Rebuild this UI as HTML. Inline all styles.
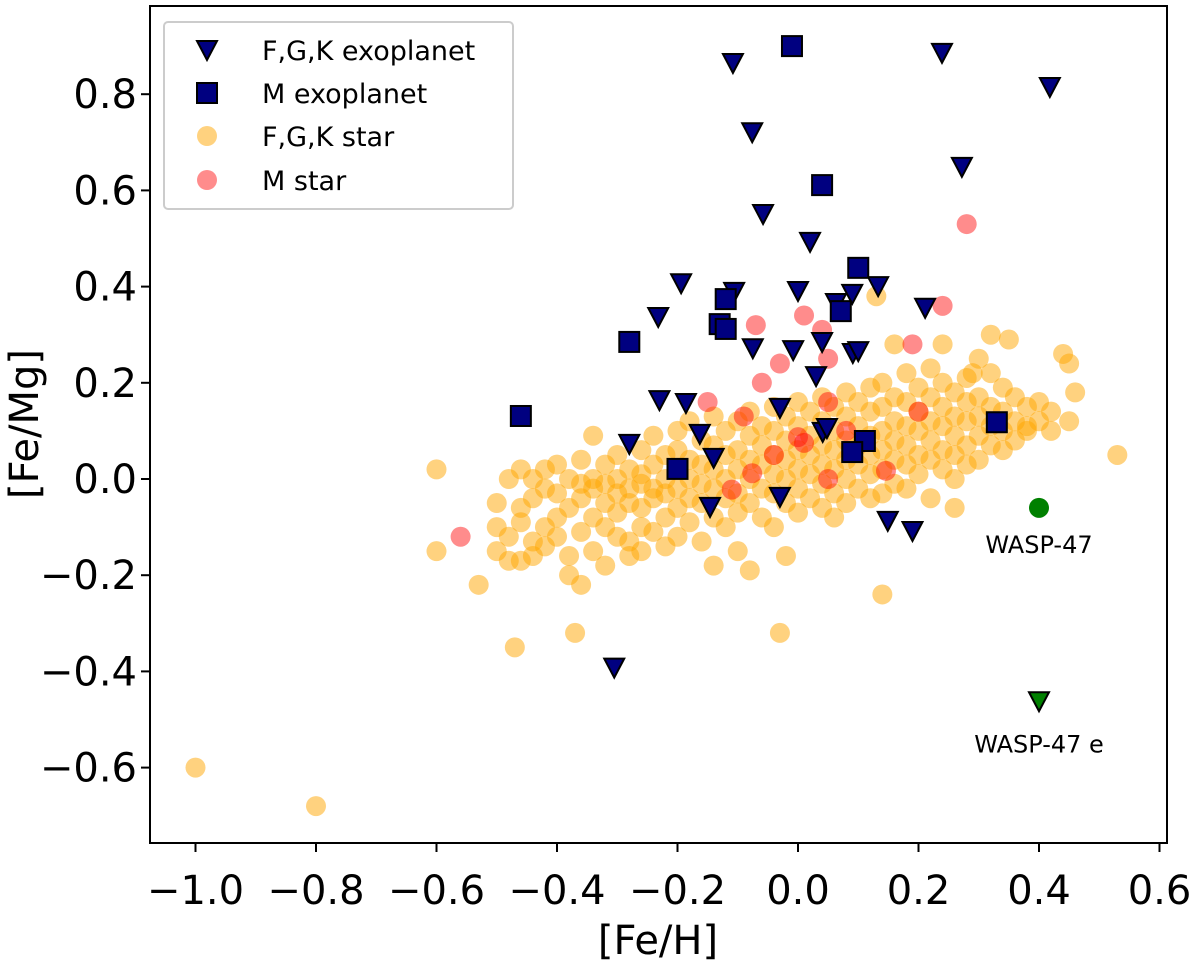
<!DOCTYPE html>
<html><head><meta charset="utf-8"><style>
html,body{margin:0;padding:0;background:#fff;}
svg{display:block;font-family:"DejaVu Sans","Liberation Sans",sans-serif;}
</style></head><body>
<svg id="chart" width="1200" height="964" viewBox="0 0 1200 964">
<g id="marks"></g>
<g id="axes"></g>
</svg>
<script>
const xTicks=[-1.0,-0.8,-0.6,-0.4,-0.2,0.0,0.2,0.4,0.6];
const yTicks=[-0.6,-0.4,-0.2,0.0,0.2,0.4,0.6,0.8];
const fgkRows=[
[-0.5,[-0.05,-0.1,-0.15]],[-0.48,[0.0,-0.12,-0.17]],[-0.46,[0.02,-0.06,-0.09,-0.17]],
[-0.44,[0.0,-0.04,-0.13,-0.16]],[-0.42,[0.02,-0.02,-0.1,-0.14]],[-0.4,[0.03,-0.03,-0.08,-0.12]],
[-0.38,[0.0,-0.06,-0.16,-0.2]],[-0.36,[0.04,-0.01,-0.04,-0.11,-0.22]],[-0.34,[0.09,0.0,-0.02,-0.08,-0.15]],
[-0.32,[0.03,-0.01,-0.05,-0.1,-0.18]],[-0.3,[0.05,0.0,-0.03,-0.07,-0.12]],[-0.28,[0.02,-0.02,-0.05,-0.13,-0.16]],
[-0.26,[0.06,0.01,-0.01,-0.06,-0.1,-0.15]],[-0.24,[0.09,0.03,-0.02,-0.04,-0.11]],[-0.22,[0.05,0.0,-0.03,-0.08,-0.14]],
[-0.2,[0.1,0.06,0.02,-0.02,-0.06,-0.12]],[-0.18,[0.12,0.04,0.0,-0.04,-0.09]],[-0.16,[0.08,0.03,-0.01,-0.05,-0.13]],
[-0.14,[0.13,0.07,0.02,-0.02,-0.08,-0.18]],[-0.12,[0.1,0.05,0.0,-0.04,-0.1]],[-0.1,[0.12,0.06,0.02,-0.03,-0.07,-0.15]],
[-0.08,[0.14,0.09,0.04,0.0,-0.05,-0.19]],[-0.06,[0.11,0.07,0.03,-0.02,-0.08]],[-0.04,[0.15,0.1,0.05,0.01,-0.03,-0.1]],
[-0.02,[0.13,0.08,0.04,0.0,-0.05,-0.16]],[0.0,[0.16,0.11,0.06,0.02,-0.02,-0.07]],[0.02,[0.14,0.09,0.05,0.01,-0.04]],
[0.04,[0.17,0.12,0.07,0.03,-0.01,-0.06]],[0.06,[0.15,0.1,0.06,0.02,-0.03,-0.08]],[0.08,[0.18,0.13,0.08,0.04,0.0,-0.05]],
[0.1,[0.16,0.11,0.07,0.03,-0.02]],[0.12,[0.19,0.14,0.09,0.05,0.01,-0.04]],[0.14,[0.2,0.15,0.1,0.06,0.02,-0.03]],
[0.16,[0.17,0.12,0.08,0.04,-0.01]],[0.18,[0.22,0.16,0.11,0.07,0.03,-0.02]],[0.2,[0.19,0.14,0.1,0.05,0.01]],
[0.22,[0.23,0.17,0.12,0.08,0.04,-0.04]],[0.24,[0.2,0.15,0.11,0.06,0.02]],[0.26,[0.18,0.13,0.09,0.05,0.0,-0.06]],
[0.28,[0.21,0.16,0.12,0.07,0.03]],[0.3,[0.25,0.17,0.13,0.09,0.04]],[0.32,[0.22,0.15,0.11,0.07]],
[0.34,[0.19,0.14,0.1,0.06]],[0.36,[0.17,0.12,0.08]],[0.38,[0.15,0.11,0.1]],[0.4,[0.16,0.12]],[0.42,[0.14,0.1]],
[-1.0,[-0.6]],[-0.8,[-0.68]],[-0.6,[0.02,-0.15]],[-0.53,[-0.22]],[-0.47,[-0.35]],[-0.37,[-0.32]],
[-0.03,[-0.32]],[0.14,[-0.24]],[0.53,[0.05]],[0.44,[0.26]],[0.45,[0.24,0.12]],[0.46,[0.18]],
[0.13,[0.38]],[0.32,[0.3]],[0.35,[0.29]],[0.24,[0.28]],[0.29,[0.22]],[0.16,[0.28]]
];
const mStarX=[0.28,0.24,0.19,-0.07,0.01,0.04,-0.03,0.05,-0.06,0.05,-0.09,-0.15,0.0,0.08,0.2,-0.04,0.05,-0.076,-0.11,0.146,0.01,-0.56];
const mStarY=[0.53,0.36,0.28,0.32,0.34,0.31,0.24,0.25,0.2,0.16,0.13,0.16,0.087,0.1,0.14,0.05,0.0,0.012,-0.022,0.017,0.075,-0.12];
const fgkPlanetX=[-0.108,0.239,0.418,-0.076,0.272,-0.058,0.02,-0.194,-0.232,-0.106,0.0,0.063,0.09,0.133,0.211,-0.075,-0.008,0.04,0.091,0.1,-0.23,-0.186,0.03,-0.03,-0.163,-0.28,-0.14,0.041,0.048,-0.03,-0.146,0.149,0.19,-0.305];
const fgkPlanetY=[0.867,0.888,0.817,0.723,0.651,0.553,0.495,0.409,0.339,0.391,0.393,0.368,0.387,0.403,0.358,0.274,0.27,0.287,0.264,0.268,0.166,0.16,0.216,0.15,0.096,0.075,0.046,0.1,0.108,-0.035,-0.056,-0.085,-0.106,-0.39];
const mPlanetX=[-0.01,0.04,0.1,-0.12,-0.13,-0.12,0.071,-0.28,-0.46,-0.2,0.111,0.09,0.33];
const mPlanetY=[0.9,0.611,0.439,0.374,0.322,0.312,0.349,0.285,0.131,0.021,0.079,0.056,0.118];
const wasp47=[0.4,-0.06];
const wasp47e=[0.4,-0.46];

const NS='http://www.w3.org/2000/svg';
const X=v=>798+v*602.5, Y=v=>479-v*481;
const marks=document.getElementById('marks'), axes=document.getElementById('axes');
function mk(tag,attrs,parent){const e=document.createElementNS(NS,tag);for(const k in attrs)e.setAttribute(k,attrs[k]);parent.appendChild(e);return e;}
function tri(cx,cy,fill,parent){return mk('polygon',{points:`${cx-10},${cy-8} ${cx+10},${cy-8} ${cx},${cy+11}`,fill:fill,stroke:'#000','stroke-width':2},parent);}
function sq(cx,cy,parent){return mk('rect',{x:cx-10,y:cy-10,width:20,height:20,fill:'#000080',stroke:'#000','stroke-width':2},parent);}

fgkRows.forEach(r=>r[1].forEach(y=>{
 const c=mk('circle',{cx:X(r[0]),cy:Y(y),r:10,fill:'#ffa500','fill-opacity':0.5},marks);
 
 
}));
mStarX.forEach((x,i)=>{
 const c=mk('circle',{cx:X(x),cy:Y(mStarY[i]),r:10,fill:'#ff0000','fill-opacity':0.45},marks);
 
 
});
fgkPlanetX.forEach((x,i)=>{
 const t=tri(X(x),Y(fgkPlanetY[i]),'#000080',marks);
 
 
});
mPlanetX.forEach((x,i)=>{
 const s=sq(X(x),Y(mPlanetY[i]),marks);
 
 
});
const w=mk('circle',{cx:X(wasp47[0]),cy:Y(wasp47[1]),r:10,fill:'#008000'},marks);


const we=tri(X(wasp47e[0]),Y(wasp47e[1]),'#008000',marks);


const wl=mk('text',{x:X(wasp47[0]),y:Y(wasp47[1])+45,'text-anchor':'middle','font-size':24},marks);wl.textContent='WASP-47';


const wel=mk('text',{x:X(wasp47e[0]),y:Y(wasp47e[1])+52,'text-anchor':'middle','font-size':24},marks);wel.textContent='WASP-47 e';



const fr=mk('rect',{x:150,y:6,width:1017,height:837,fill:'none',stroke:'#000','stroke-width':2},axes);


xTicks.forEach(v=>{
 mk('line',{x1:X(v),x2:X(v),y1:843,y2:852,stroke:'#000','stroke-width':2},axes);
 const t=mk('text',{x:X(v),y:904,'text-anchor':'middle','font-size':40},axes);
 t.textContent=(v<0?'\u2212':'')+Math.abs(v).toFixed(1);
 
 
});
yTicks.forEach(v=>{
 mk('line',{x1:141,x2:150,y1:Y(v),y2:Y(v),stroke:'#000','stroke-width':2},axes);
 const t=mk('text',{x:137,y:Y(v)+14,'text-anchor':'end','font-size':40},axes);
 t.textContent=(v<0?'\u2212':'')+Math.abs(v).toFixed(1);
 
 
});
const xl=mk('text',{x:658,y:954,'text-anchor':'middle','font-size':40},axes);xl.textContent='[Fe/H]';


const yl=mk('text',{x:0,y:0,'text-anchor':'middle','font-size':40,transform:'translate(38,424) rotate(-90)'},axes);yl.textContent='[Fe/Mg]';



const lg=mk('g',{},axes);


mk('rect',{x:164,y:22,width:349,height:187,rx:4,fill:'#fff','fill-opacity':0.85,stroke:'#ccc','stroke-width':2},lg);
const labels=['F,G,K exoplanet','M exoplanet','F,G,K star','M star'];
const ly=[50,93,136,180];
tri(207,ly[0]-1,'#000080',lg);
sq(207,ly[1],lg);
mk('circle',{cx:207,cy:ly[2],r:10,fill:'#ffa500','fill-opacity':0.5},lg);
mk('circle',{cx:207,cy:ly[3],r:10,fill:'#ff0000','fill-opacity':0.45},lg);
labels.forEach((s,i)=>{
 const t=mk('text',{x:262,y:ly[i]+10,'font-size':27},lg);t.textContent=s;
 
 
});
</script>
</body></html>
